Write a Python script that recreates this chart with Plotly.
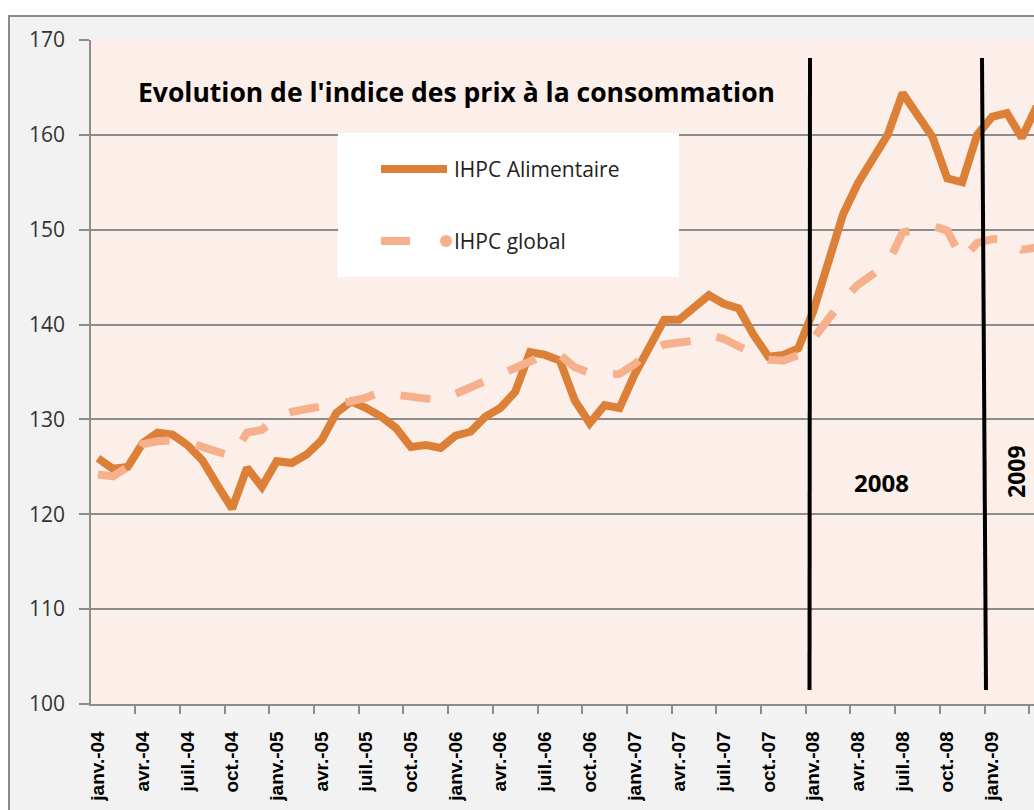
import plotly.graph_objects as go

# ---------------- data ----------------
month_index = list(range(64))  # janv.-04 ... avr.-09

ihpc_alimentaire = [
    125.9, 124.8, 125.0, 127.5, 128.6, 128.4, 127.3, 125.7, 123.1, 120.6, 124.9, 122.9,
    125.6, 125.4, 126.3, 127.8, 130.7, 131.9, 131.2, 130.3, 129.1, 127.1, 127.3, 127.0,
    128.3, 128.7, 130.3, 131.2, 132.9, 137.1, 136.8, 136.2, 132.0, 129.6, 131.5, 131.2,
    134.7, 137.5, 140.5, 140.5, 141.9, 143.1, 142.2, 141.7, 138.9, 136.6, 136.8, 137.5,
    141.4, 146.6, 151.6, 154.9, 157.3, 160.0, 164.4, 162.1, 159.8, 155.4, 155.0, 160.0,
    161.9, 162.3, 159.7, 163.0,
]

ihpc_global = [
    124.2, 124.0, 125.0, 127.4, 127.7, 127.8, 127.6, 127.1, 126.6, 126.1, 128.6, 128.9,
    130.2, 130.8, 131.1, 131.3, 131.6, 131.9, 132.3, 132.9, 132.6, 132.4, 132.2, 132.0,
    132.7, 133.4, 134.0, 134.7, 135.4, 136.2, 136.8, 136.8, 135.5, 134.9, 134.7, 134.8,
    135.8, 137.2, 137.9, 138.1, 138.3, 138.9, 138.5, 137.7, 137.0, 136.3, 136.2, 136.8,
    138.5, 140.6, 142.6, 144.2, 145.3, 146.4, 149.7, 150.0, 150.4, 149.9, 146.9, 148.6,
    149.0, 149.0, 147.9, 148.1,
]

tick_positions = list(range(0, 64, 3))
tick_labels = [
    "janv.-04", "avr.-04", "juil.-04", "oct.-04",
    "janv.-05", "avr.-05", "juil.-05", "oct.-05",
    "janv.-06", "avr.-06", "juil.-06", "oct.-06",
    "janv.-07", "avr.-07", "juil.-07", "oct.-07",
    "janv.-08", "avr.-08", "juil.-08", "oct.-08",
    "janv.-09", "avr.-09",
]
series_names = ["IHPC Alimentaire", "IHPC global"]
title_text = "Evolution de l'indice des prix à la consommation"
year_labels = ["2008", "2009"]

# ---------------- styling / layout ----------------
W, H = 1034, 810
ML, MT, MR, MB = 91, 40, 0, 106
PW, PH = W - ML - MR, H - MT - MB

def px(x):
    return (x - ML) / PW

def py(y):
    return (MT + PH - y) / PH

C_FOOD = "#DC8038"
C_ALL = "#F6B08C"
PLOT_BG = "#FCEEE8"

fig = go.Figure()
fig.add_trace(go.Scatter(
    x=month_index, y=ihpc_alimentaire, mode="lines", name=series_names[0],
    line=dict(color=C_FOOD, width=8), showlegend=False,
))
fig.add_trace(go.Scatter(
    x=month_index, y=ihpc_global, mode="lines", name=series_names[1],
    line=dict(color=C_ALL, width=8, dash="30px,27px"), showlegend=False,
))

shapes = []
# outer chart frame
shapes.append(dict(type="rect", xref="paper", yref="paper",
                   x0=px(9), x1=px(1045), y0=py(830), y1=py(16),
                   fillcolor="#F2F2F2", line=dict(color="#8A8A8A", width=2), layer="below"))
# plot area background
shapes.append(dict(type="rect", xref="x domain", yref="y domain",
                   x0=0, x1=1, y0=0, y1=1, fillcolor=PLOT_BG, line=dict(width=0), layer="below"))
# year separator lines
shapes.append(dict(type="line", xref="paper", yref="paper",
                   x0=px(810), x1=px(809.5), y0=py(58), y1=py(690),
                   line=dict(color="black", width=4)))
shapes.append(dict(type="line", xref="paper", yref="paper",
                   x0=px(982), x1=px(986), y0=py(58), y1=py(690),
                   line=dict(color="black", width=4)))
# legend box
shapes.append(dict(type="rect", xref="paper", yref="paper",
                   x0=px(338), x1=px(679), y0=py(277), y1=py(133),
                   fillcolor="white", line=dict(width=0)))
shapes.append(dict(type="line", xref="paper", yref="paper",
                   x0=px(381), x1=px(447), y0=py(169), y1=py(169),
                   line=dict(color=C_FOOD, width=8)))
shapes.append(dict(type="line", xref="paper", yref="paper",
                   x0=px(381), x1=px(410), y0=py(241), y1=py(241),
                   line=dict(color=C_ALL, width=8)))
shapes.append(dict(type="circle", xref="paper", yref="paper",
                   x0=px(440), x1=px(452), y0=py(247), y1=py(235),
                   fillcolor=C_ALL, line=dict(width=0)))

annotations = [
    dict(text="<b>" + title_text + "</b>", xref="paper", yref="paper",
         x=px(136), y=py(92), xanchor="left", yanchor="middle", showarrow=False,
         font=dict(family="Open Sans", size=26.5, color="black")),
    dict(text=series_names[0], xref="paper", yref="paper",
         x=px(452), y=py(169), xanchor="left", yanchor="middle", showarrow=False,
         font=dict(family="Open Sans", size=21, color="#222222")),
    dict(text=series_names[1], xref="paper", yref="paper",
         x=px(452), y=py(241), xanchor="left", yanchor="middle", showarrow=False,
         font=dict(family="Open Sans", size=21, color="#222222")),
    dict(text="<b>" + year_labels[0] + "</b>", xref="paper", yref="paper",
         x=px(881), y=py(482), xanchor="center", yanchor="middle", showarrow=False,
         font=dict(family="Open Sans", size=24, color="black")),
    dict(text="<b>" + year_labels[1] + "</b>", xref="paper", yref="paper",
         x=px(1016), y=py(472), xanchor="center", yanchor="middle", showarrow=False,
         textangle=-90, font=dict(family="Open Sans", size=23, color="black")),
]

x_lo = -0.47
x_hi = x_lo + PW / 14.9

fig.update_layout(
    width=W, height=H,
    margin=dict(l=ML, r=MR, t=MT, b=MB, pad=0),
    paper_bgcolor="white",
    plot_bgcolor="rgba(0,0,0,0)",
    shapes=shapes,
    annotations=annotations,
    showlegend=False,
    xaxis=dict(
        range=[x_lo, x_hi], tickmode="array", tickvals=tick_positions, ticktext=tick_labels,
        tickangle=-90, ticks="outside", ticklen=18, tickcolor="rgba(0,0,0,0)",
        tickfont=dict(family="Liberation Sans", size=19, color="black", weight="bold"),
        showgrid=False, zeroline=False, showline=True, linecolor="#8C8C8C", linewidth=1.5,
        minor=dict(tickmode="array", tickvals=[p - 0.5 for p in tick_positions],
                   ticks="outside", ticklen=8, tickcolor="#8C8C8C", tickwidth=1.5, showgrid=False),
    ),
    yaxis=dict(
        range=[100, 170], dtick=10, tick0=100, ticks="outside", ticklen=10,
        tickcolor="#8C8C8C", tickwidth=1.5,
        tickfont=dict(family="Open Sans", size=21, color="#333333"),
        showgrid=True, gridcolor="#8C8C8C", gridwidth=1.5,
        zeroline=False, showline=True, linecolor="#8C8C8C", linewidth=1.5,
        ticklabelstandoff=10,
    ),
)

fig.write_html("out.html", config={"displayModeBar": False},
               post_script="document.body.style.margin='0';")
